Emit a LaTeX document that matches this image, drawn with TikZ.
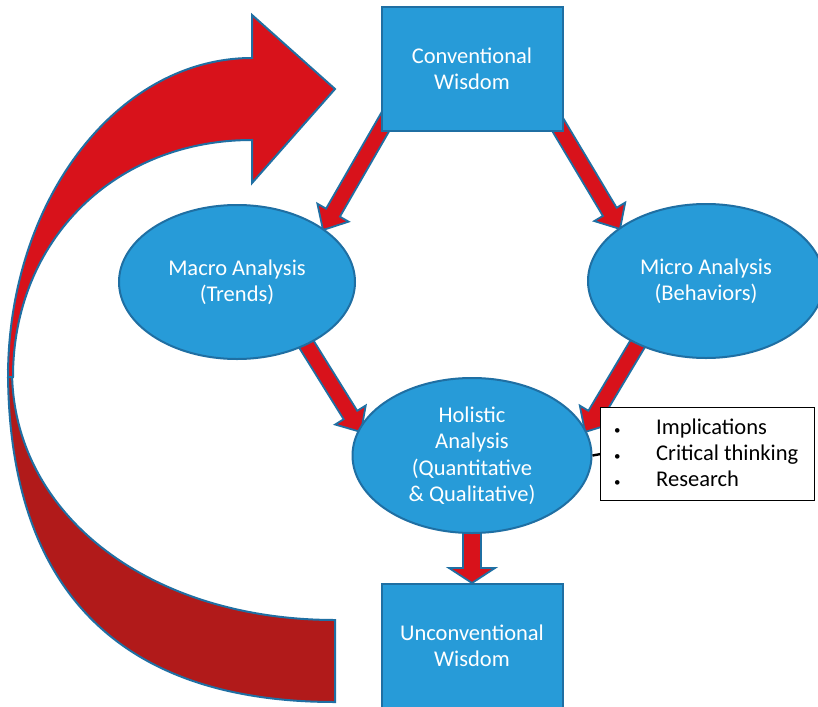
\documentclass[tikz,border=0pt]{standalone}
\usepackage{fontspec}
\setmainfont{Carlito}
\usetikzlibrary{calc,shapes.geometric}
\definecolor{boxblue}{HTML}{279BD8}
\definecolor{edgeblue}{HTML}{1F6FA3}
\definecolor{arrred}{HTML}{D8121B}
\definecolor{darkred}{HTML}{B11A1A}
\pgfdeclarelayer{bg}
\pgfsetlayers{bg,main}
\newcommand{\blockarrow}[6]{%
  \coordinate (tmpC) at ($(#2)!#5!(#1)$);
  \draw[#6] ($(#1)!#3!90:(#2)$) -- ($(tmpC)!#3!90:(#2)$) -- ($(tmpC)!#4!90:(#2)$)
    -- (#2) -- ($(tmpC)!#4!-90:(#2)$) -- ($(tmpC)!#3!-90:(#2)$)
    -- ($(#1)!#3!-90:(#2)$) -- cycle;
}
\newcommand{\smallbul}{{\fontsize{13}{13}\selectfont\textbullet}}
\tikzset{
  lbl/.style={font=\fontsize{22.5}{26}\selectfont},
  rectbox/.style={lbl, rectangle, draw=edgeblue, line width=2pt, fill=boxblue, text=white,
    minimum width=181pt, minimum height=123pt, align=center, inner sep=0pt},
  ellbox/.style={lbl, ellipse, draw=edgeblue, line width=2pt, fill=boxblue, text=white,
    align=center, inner sep=0pt},
  redarrow/.style={draw=edgeblue, line width=1.8pt, fill=arrred, line join=miter},
  bigfront/.style={draw=edgeblue, line width=2pt, fill=arrred, line join=miter},
  bigback/.style={draw=edgeblue, line width=2pt, fill=darkred, line join=miter},
  bulletbox/.style={rectangle, draw=black, line width=1.3pt, fill=white,
    minimum width=214pt, minimum height=93pt, inner sep=0pt},
}
\begin{document}
\begin{tikzpicture}[x=1pt,y=-1pt]
\begin{pgfonlayer}{bg}
\fill[white] (0,0) rectangle (818,706);
\end{pgfonlayer}
\clip (0,0) rectangle (818,706);

% nodes
\node[rectbox] (conv) at (472,69) {Conventional\\Wisdom};
\node[rectbox, minimum height=124pt] (unconv) at (472,646) {Unconventional\\Wisdom};
\node[ellbox, minimum width=236pt, minimum height=154pt] (macro) at (237,282) {Macro Analysis\\(Trends)};
\node[ellbox, minimum width=236pt, minimum height=154pt] (micro) at (706,281) {Micro Analysis\\(Behaviors)};
\node[ellbox, minimum width=239pt, minimum height=155pt, font=\fontsize{22.5}{26.5}\selectfont] (holi) at (472,455.5) {Holistic\\Analysis\\(Quantitative\\\& Qualitative)};
\node[bulletbox, anchor=north west] (bul) at (600,407) {};
\node[lbl, anchor=west, inner sep=0pt] (bultext) at (614,455)
  {\begin{tabular}{@{}p{42pt}@{}l@{}}\smallbul & Implications\\ \smallbul & Critical thinking\\ \smallbul & Research\end{tabular}};
\draw[line width=2.4pt] (holi.east) -- (bul.west);

% connector coordinates
\coordinate (s1) at (395,105);
\coordinate (t1) at (323,230);
\coordinate (s2) at (546,105);
\coordinate (t2) at (620,229);
\coordinate (s3) at (282,305);
\coordinate (t3) at (361,432);
\coordinate (s4) at (662,303);
\coordinate (t4) at (585,432);
\coordinate (s5) at (472,500);
\coordinate (t5) at (472,583);

\begin{pgfonlayer}{bg}
  \blockarrow{s1}{t1}{8pt}{18pt}{20pt}{redarrow}
  \blockarrow{s2}{t2}{8pt}{18pt}{20pt}{redarrow}
  \blockarrow{s3}{t3}{8pt}{18pt}{20pt}{redarrow}
  \blockarrow{s4}{t4}{8pt}{18pt}{20pt}{redarrow}
  \blockarrow{s5}{t5}{9pt}{23pt}{15pt}{redarrow}
\end{pgfonlayer}

% big curved arrow: back (dark) part
\draw[bigback] (335,620) .. controls (150,620) and (12,515) .. (12,370)
  -- (8,370) .. controls (8,590) and (120,702) .. (335,702) -- cycle;
% front (bright) part with head
\draw[bigfront] (8,377) .. controls (8,201) and (117,58) .. (252,58)
  -- (252,15) -- (335,89) -- (252,183) -- (252,140)
  .. controls (115,140) and (13,240) .. (13,377) -- cycle;
\end{tikzpicture}
\end{document}
